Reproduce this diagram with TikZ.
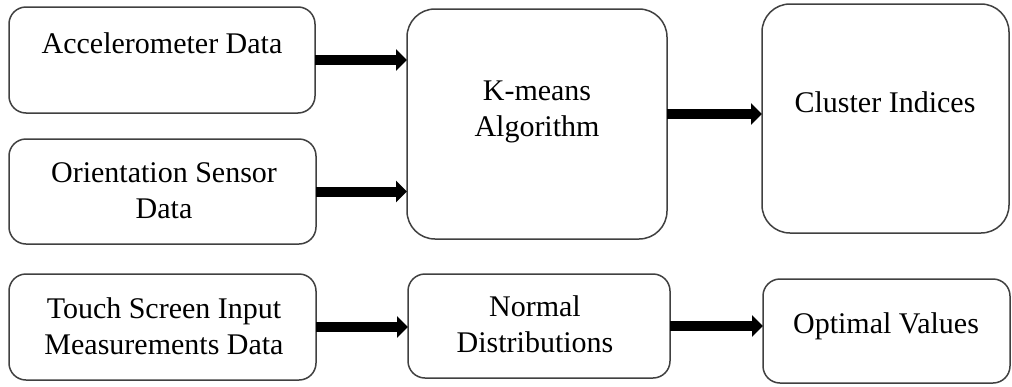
\documentclass[tikz,border=0pt]{standalone}
\usepackage{fontspec}
\setmainfont{Liberation Serif}
\usetikzlibrary{arrows.meta,calc}

\begin{document}
\begin{tikzpicture}[x=0.5pt,y=-0.5pt,
  box/.style={draw=black!75,line width=0.75pt,rounded corners=8.5pt,
              inner sep=0pt,outer sep=0pt,fill=white},
  bigbox/.style={box,rounded corners=14pt},
  lbl/.style={font=\fontsize{15pt}{18pt}\selectfont,align=center,inner sep=0pt,anchor=base},
  bigarrow/.style={line width=5pt,-{Triangle[length=5.5pt,width=10.5pt]}}
]
\useasboundingbox (0,0) rectangle (1012,386);

% boxes
\node[box,minimum width=153pt,minimum height=53pt]      (acc) at (162,60) {};
\node[box,minimum width=153.5pt,minimum height=52.5pt]  (ori) at (162.5,191.5) {};
\node[box,minimum width=153.5pt,minimum height=53pt]    (tch) at (162.5,327) {};
\node[bigbox,minimum width=130pt,minimum height=115pt]  (km)  at (537,124) {};
\node[bigbox,minimum width=123.5pt,minimum height=114.5pt] (cl) at (885.5,118.5) {};
\node[box,minimum width=131pt,minimum height=52pt]      (nd)  at (539,326) {};
\node[box,minimum width=123.5pt,minimum height=52pt]    (opt) at (886.5,331) {};

% labels (base anchor = baseline of the last line)
\node[lbl] (acct) at (162,53)  {Accelerometer Data};
\node[lbl] (orit) at (164,218) {Orientation Sensor\\Data};
\node[lbl] (tcht) at (164,354) {Touch Screen Input\\Measurements Data};
\node[lbl] (kmt)  at (537,136) {K-means\\Algorithm};
\node[lbl] (clt)  at (885,112) {Cluster Indices};
\node[lbl] (ndt)  at (535,352) {Normal\\Distributions};
\node[lbl] (optt) at (886,333) {Optimal Values};

% connectors
\coordinate (k1) at ([yshift=5pt]km.east);
\draw[bigarrow] (acc.east) -- (acc.east -| km.west);
\draw[bigarrow] (ori.east) -- (ori.east -| km.west);
\draw[bigarrow] (k1) -- (k1 -| cl.west);
\draw[bigarrow] (tch.east) -- (tch.east -| nd.west);
\draw[bigarrow] (nd.east) -- (nd.east -| opt.west);
\end{tikzpicture}
\end{document}
